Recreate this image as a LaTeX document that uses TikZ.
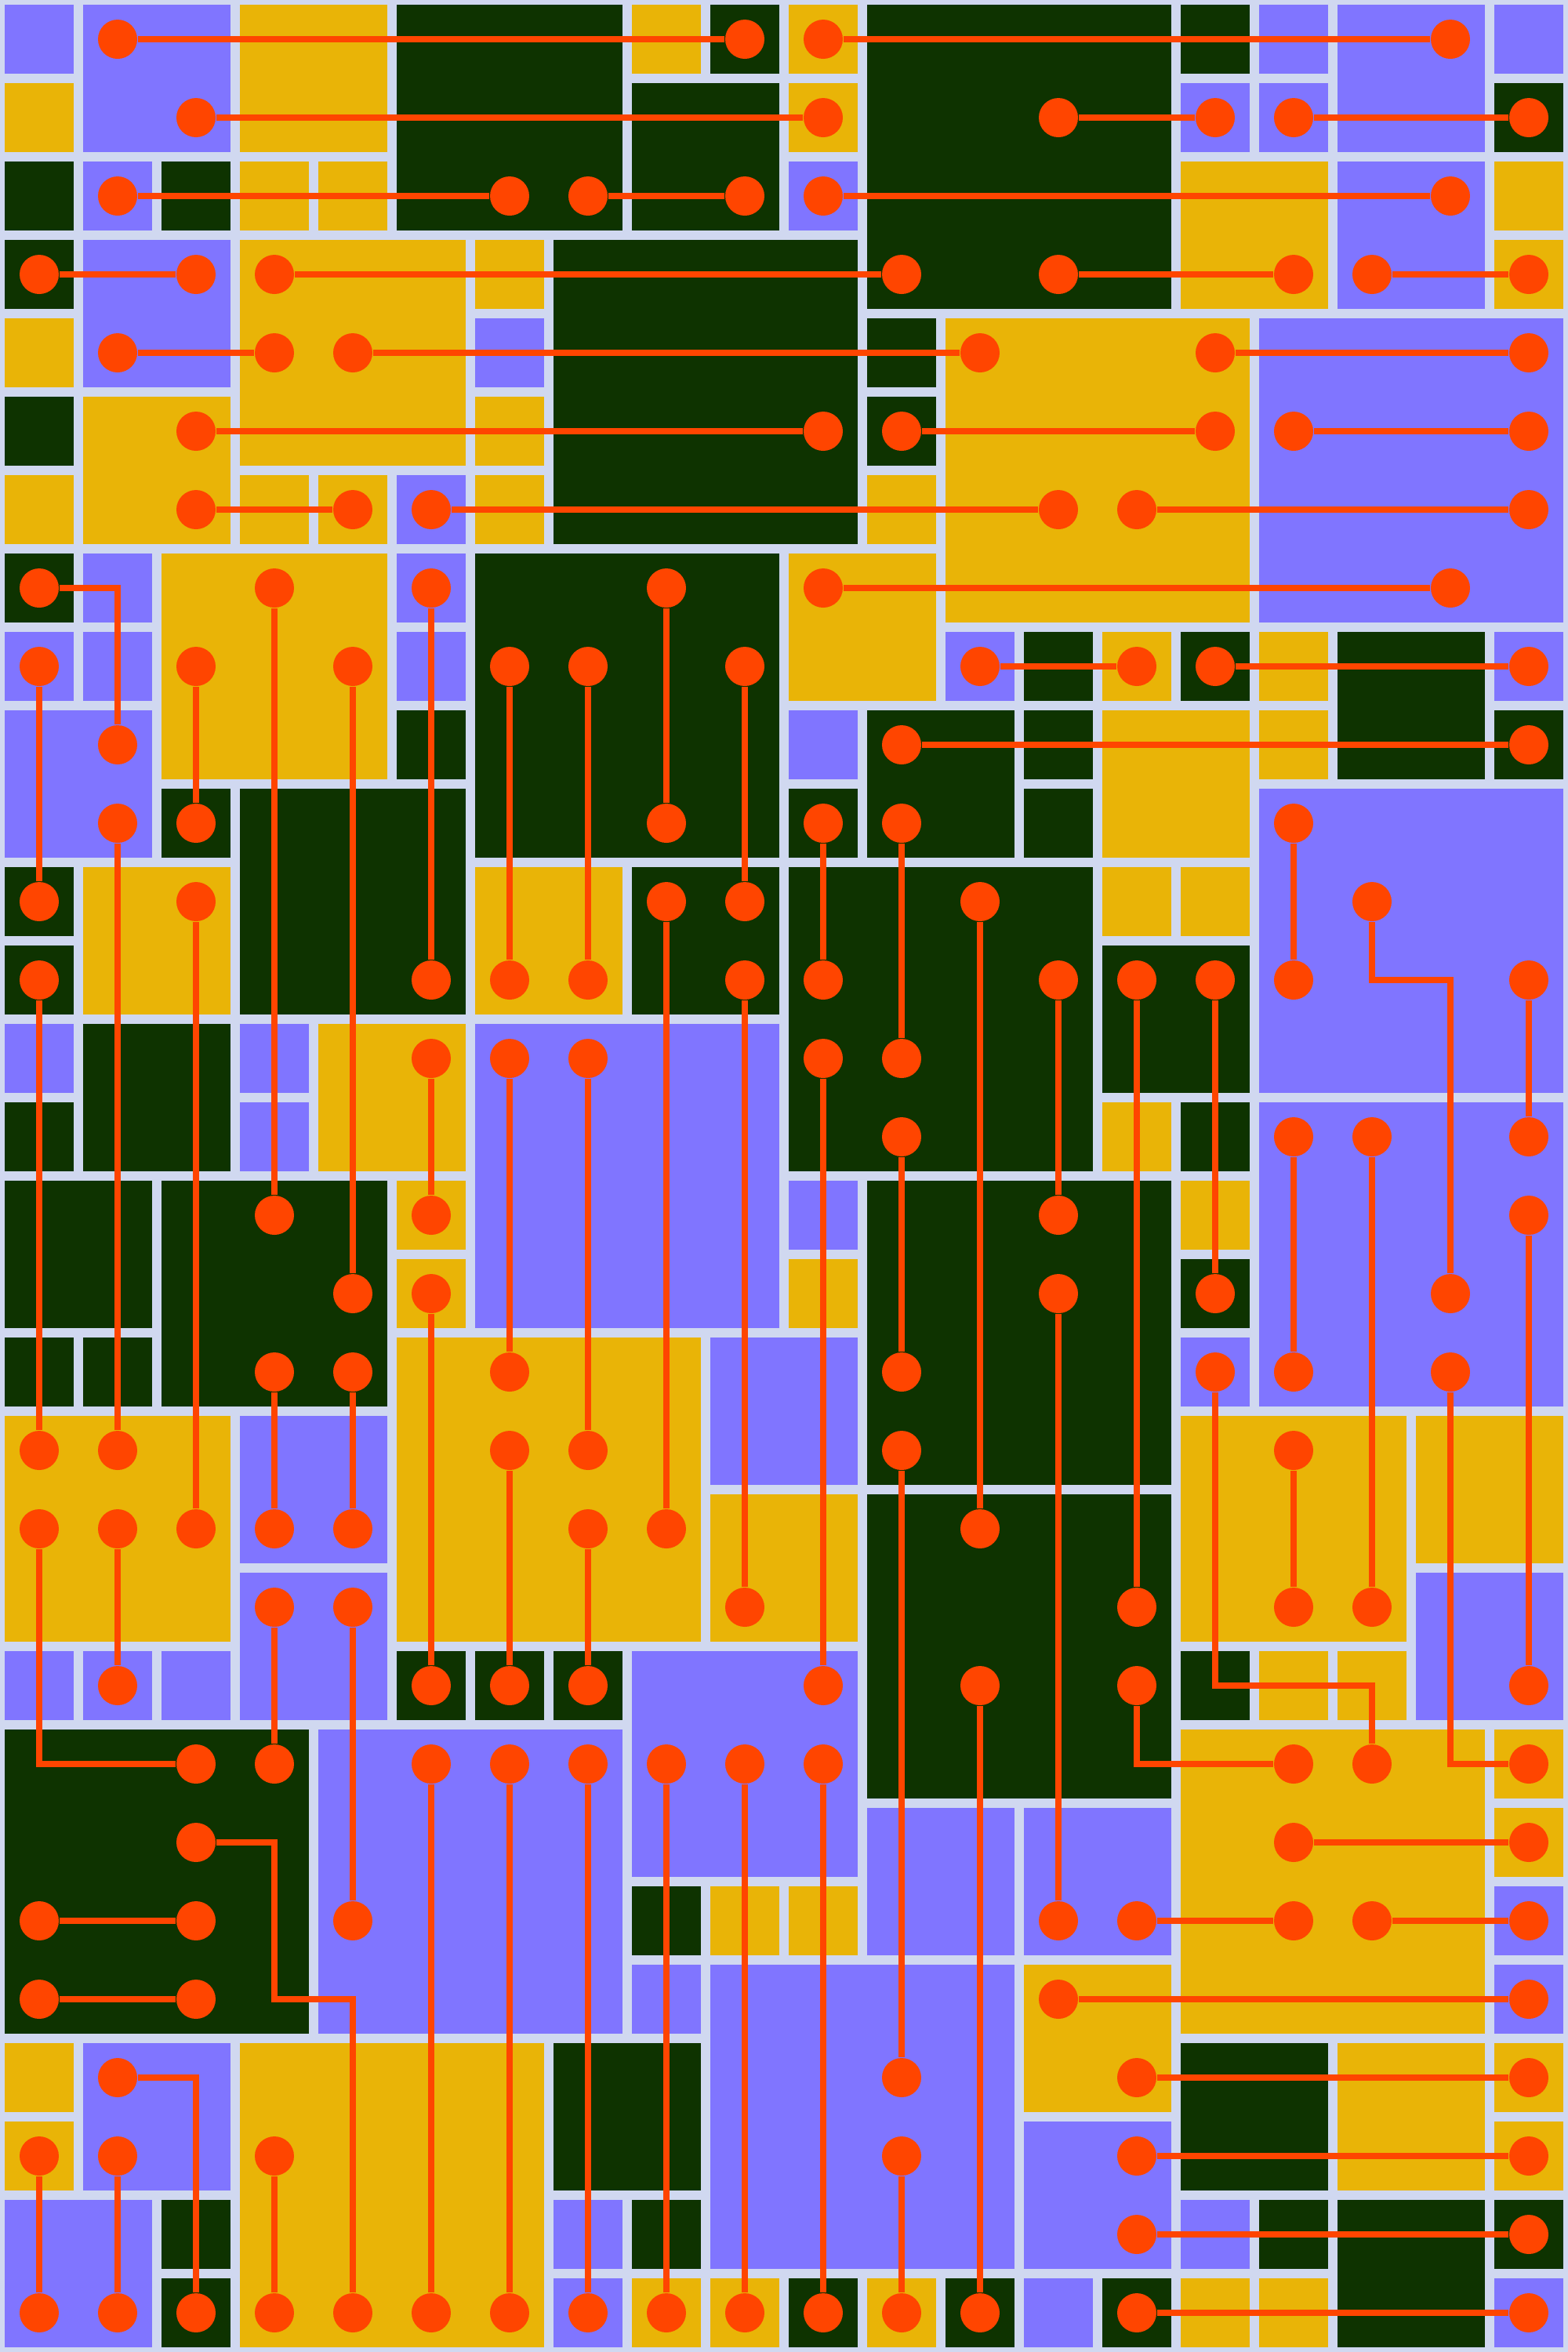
\documentclass[tikz,border=0pt]{standalone}
\definecolor{bgc}{HTML}{D0D8F0}
\definecolor{pu}{HTML}{8075FF}
\definecolor{ye}{HTML}{E9B407}
\definecolor{gr}{HTML}{0E3300}
\definecolor{wi}{HTML}{FF4500}
\newcommand\myrect[5]{\fill[#1] (#2-0.44,#3-0.44) rectangle (#4+0.44,#5+0.44);}
\newcommand\mysq[3]{\fill[#1] (#2-0.44,#3-0.44) rectangle (#2+0.44,#3+0.44);}
\begin{document}
\begin{tikzpicture}[x=0.5cm,y=-0.5cm,
  dot/.style={circle,fill=wi,draw=none,inner sep=0pt,minimum size=0.25cm},
  wire/.style={draw=wi,line width=0.038cm,line join=miter}]
\fill[bgc] (-0.5,-0.5) rectangle (19.5,29.5);
\useasboundingbox (-0.5,-0.5) rectangle (19.5,29.5);
% rows 0-9, cols 0-9
\mysq{pu}{0}{0}
\myrect{pu}{1}{0}{2}{1}
\myrect{ye}{3}{0}{4}{1}
\myrect{gr}{5}{0}{7}{2}
\mysq{ye}{8}{0}
\mysq{gr}{9}{0}
\myrect{gr}{8}{1}{9}{2}
\mysq{ye}{0}{1}
\mysq{gr}{0}{2}
\mysq{pu}{1}{2}
\mysq{gr}{2}{2}
\mysq{ye}{3}{2}
\mysq{ye}{4}{2}
\mysq{gr}{0}{3}
\myrect{pu}{1}{3}{2}{4}
\myrect{ye}{3}{3}{5}{5}
\mysq{ye}{6}{3}
\myrect{gr}{7}{3}{10}{6}
\mysq{ye}{0}{4}
\mysq{pu}{6}{4}
\mysq{gr}{0}{5}
\myrect{ye}{1}{5}{2}{6}
\mysq{ye}{6}{5}
\mysq{ye}{0}{6}
\mysq{ye}{3}{6}
\mysq{ye}{4}{6}
\mysq{pu}{5}{6}
\mysq{ye}{6}{6}
\mysq{gr}{0}{7}
\mysq{pu}{1}{7}
\myrect{ye}{2}{7}{4}{9}
\mysq{pu}{5}{7}
\myrect{gr}{6}{7}{9}{10}
\mysq{pu}{0}{8}
\mysq{pu}{1}{8}
\mysq{pu}{5}{8}
\myrect{pu}{0}{9}{1}{10}
\mysq{gr}{5}{9}
% rows 0-9, cols 10-19
\mysq{ye}{10}{0}
\myrect{gr}{11}{0}{14}{3}
\mysq{gr}{15}{0}
\mysq{pu}{16}{0}
\myrect{pu}{17}{0}{18}{1}
\mysq{pu}{19}{0}
\mysq{ye}{10}{1}
\mysq{pu}{15}{1}
\mysq{pu}{16}{1}
\mysq{gr}{19}{1}
\mysq{pu}{10}{2}
\myrect{ye}{15}{2}{16}{3}
\myrect{pu}{17}{2}{18}{3}
\mysq{ye}{19}{2}
\mysq{ye}{19}{3}
\mysq{gr}{11}{4}
\myrect{ye}{12}{4}{15}{7}
\myrect{pu}{16}{4}{19}{7}
\mysq{gr}{11}{5}
\mysq{ye}{11}{6}
\myrect{ye}{10}{7}{11}{8}
\mysq{pu}{12}{8}
\mysq{gr}{13}{8}
\mysq{ye}{14}{8}
\mysq{gr}{15}{8}
\mysq{ye}{16}{8}
\myrect{gr}{17}{8}{18}{9}
\mysq{pu}{19}{8}
\mysq{pu}{10}{9}
\myrect{gr}{11}{9}{12}{10}
\mysq{gr}{13}{9}
\myrect{ye}{14}{9}{15}{10}
\mysq{ye}{16}{9}
\mysq{gr}{19}{9}
% rows 10-19, cols 0-9
\mysq{gr}{2}{10}
\myrect{gr}{3}{10}{5}{12}
\mysq{gr}{0}{11}
\myrect{ye}{1}{11}{2}{12}
\myrect{ye}{6}{11}{7}{12}
\myrect{gr}{8}{11}{9}{12}
\mysq{gr}{0}{12}
\mysq{pu}{0}{13}
\myrect{gr}{1}{13}{2}{14}
\mysq{pu}{3}{13}
\myrect{ye}{4}{13}{5}{14}
\myrect{pu}{6}{13}{9}{16}
\mysq{gr}{0}{14}
\mysq{pu}{3}{14}
\myrect{gr}{0}{15}{1}{16}
\myrect{gr}{2}{15}{4}{17}
\mysq{ye}{5}{15}
\mysq{ye}{5}{16}
\mysq{gr}{0}{17}
\mysq{gr}{1}{17}
\myrect{ye}{5}{17}{8}{20}
\myrect{pu}{9}{17}{10}{18}
\myrect{ye}{0}{18}{2}{20}
\myrect{pu}{3}{18}{4}{19}
\myrect{ye}{9}{19}{10}{20}
% rows 10-19, cols 10-19
\mysq{gr}{10}{10}
\mysq{gr}{13}{10}
\myrect{pu}{16}{10}{19}{13}
\myrect{gr}{10}{11}{13}{14}
\mysq{ye}{14}{11}
\mysq{ye}{15}{11}
\myrect{gr}{14}{12}{15}{13}
\mysq{ye}{14}{14}
\mysq{gr}{15}{14}
\myrect{pu}{16}{14}{19}{17}
\mysq{pu}{10}{15}
\myrect{gr}{11}{15}{14}{18}
\mysq{ye}{15}{15}
\mysq{ye}{10}{16}
\mysq{gr}{15}{16}
\mysq{pu}{15}{17}
\myrect{ye}{15}{18}{17}{20}
\myrect{ye}{18}{18}{19}{19}
\myrect{gr}{11}{19}{14}{22}
% rows 20-29, cols 0-9
\myrect{pu}{3}{20}{4}{21}
\mysq{pu}{0}{21}
\mysq{pu}{1}{21}
\mysq{pu}{2}{21}
\mysq{gr}{5}{21}
\mysq{gr}{6}{21}
\mysq{gr}{7}{21}
\myrect{pu}{8}{21}{10}{23}
\myrect{gr}{0}{22}{3}{25}
\myrect{pu}{4}{22}{7}{25}
\mysq{gr}{8}{24}
\mysq{ye}{9}{24}
\mysq{pu}{8}{25}
\myrect{pu}{9}{25}{12}{28}
\mysq{ye}{0}{26}
\myrect{pu}{1}{26}{2}{27}
\myrect{ye}{3}{26}{6}{29}
\myrect{gr}{7}{26}{8}{27}
\mysq{ye}{0}{27}
\myrect{pu}{0}{28}{1}{29}
\mysq{gr}{2}{28}
\mysq{pu}{7}{28}
\mysq{gr}{8}{28}
\mysq{gr}{2}{29}
\mysq{pu}{7}{29}
\mysq{ye}{8}{29}
\mysq{ye}{9}{29}
% rows 20-29, cols 10-19
\myrect{pu}{18}{20}{19}{21}
\mysq{gr}{15}{21}
\mysq{ye}{16}{21}
\mysq{ye}{17}{21}
\myrect{ye}{15}{22}{18}{25}
\mysq{ye}{19}{22}
\myrect{pu}{11}{23}{12}{24}
\myrect{pu}{13}{23}{14}{24}
\mysq{ye}{19}{23}
\mysq{ye}{10}{24}
\mysq{pu}{19}{24}
\myrect{ye}{13}{25}{14}{26}
\mysq{pu}{19}{25}
\myrect{gr}{15}{26}{16}{27}
\myrect{ye}{17}{26}{18}{27}
\mysq{ye}{19}{26}
\myrect{pu}{13}{27}{14}{28}
\mysq{ye}{19}{27}
\mysq{pu}{15}{28}
\mysq{gr}{16}{28}
\myrect{gr}{17}{28}{18}{29}
\mysq{gr}{19}{28}
\mysq{gr}{10}{29}
\mysq{ye}{11}{29}
\mysq{gr}{12}{29}
\mysq{pu}{13}{29}
\mysq{gr}{14}{29}
\mysq{ye}{15}{29}
\mysq{ye}{16}{29}
\mysq{pu}{19}{29}
% dots
\foreach \r/\cs in {
 0/{1,9,10,18},
 1/{2,10,13,15,16,19},
 2/{1,6,7,9,10,18},
 3/{0,2,3,11,13,16,17,19},
 4/{1,3,4,12,15,19},
 5/{2,10,11,15,16,19},
 6/{2,4,5,13,14,19},
 7/{0,3,5,8,10,18},
 8/{0,2,4,6,7,9,12,14,15,19},
 9/{1,11,19},
 10/{1,2,8,10,11,16},
 11/{0,2,8,9,12,17},
 12/{0,5,6,7,9,10,13,14,15,16,19},
 13/{5,6,7,10,11},
 14/{11,16,17,19},
 15/{3,5,13,19},
 16/{4,5,13,15,18},
 17/{3,4,6,11,15,16,18},
 18/{0,1,6,7,11,16},
 19/{0,1,2,3,4,7,8,12},
 20/{3,4,9,14,16,17},
 21/{1,5,6,7,10,12,14,19},
 22/{2,3,5,6,7,8,9,10,16,17,19},
 23/{2,16,19},
 24/{0,2,4,13,14,16,17,19},
 25/{0,2,13,19},
 26/{1,11,14,19},
 27/{0,1,3,11,14,19},
 28/{14,19},
 29/{0,1,2,3,4,5,6,7,8,9,10,11,12,14,19}}
 {\foreach \c in \cs {\node[dot] (d\c-\r) at (\c,\r) {};}}
% straight wires
\foreach \a/\b in {
 1-0/9-0, 10-0/18-0, 2-1/10-1, 13-1/15-1, 16-1/19-1, 1-2/6-2, 7-2/9-2, 10-2/18-2,
 0-3/2-3, 3-3/11-3, 13-3/16-3, 17-3/19-3, 1-4/3-4, 4-4/12-4, 15-4/19-4,
 2-5/10-5, 11-5/15-5, 16-5/19-5, 2-6/4-6, 5-6/13-6, 14-6/19-6, 10-7/18-7,
 12-8/14-8, 15-8/19-8, 11-9/19-9,
 3-7/3-15, 5-7/5-12, 8-7/8-10, 0-8/0-11, 2-8/2-10, 4-8/4-16, 6-8/6-12, 7-8/7-12,
 9-8/9-11, 1-10/1-18, 0-12/0-18, 2-11/2-19, 3-17/3-19, 4-17/4-19, 5-13/5-15,
 5-16/5-21, 6-13/6-17, 6-18/6-21, 7-13/7-18, 7-19/7-21, 8-11/8-19, 9-12/9-20,
 1-19/1-21, 3-20/3-22, 4-20/4-24, 0-24/2-24, 0-25/2-25, 5-22/5-29, 6-22/6-29,
 7-22/7-29, 8-22/8-29, 9-22/9-29, 0-27/0-29, 1-27/1-29, 3-27/3-29,
 10-10/10-12, 10-13/10-21, 10-22/10-29, 11-10/11-13, 11-14/11-17, 11-18/11-26,
 11-27/11-29, 12-11/12-19, 12-21/12-29, 13-12/13-15, 13-16/13-24, 14-12/14-20,
 15-12/15-16, 16-10/16-12, 16-14/16-17, 16-18/16-20, 17-14/17-20, 19-12/19-14,
 19-15/19-21, 16-23/19-23, 14-24/16-24, 17-24/19-24, 13-25/19-25, 14-26/19-26,
 14-27/19-27, 14-28/19-28, 14-29/19-29}
 {\draw[wire] (d\a) -- (d\b);}
% bent wires
\draw[wire] (d0-7) -| (d1-9);
\draw[wire] (d0-19) |- (d2-22);
\draw[wire] (d2-23) -- (3,23) -- (3,25) -- (4,25) -- (d4-29);
\draw[wire] (d1-26) -| (d2-29);
\draw[wire] (d14-21) |- (d16-22);
\draw[wire] (d15-17) -- (15,21) -| (d17-22);
\draw[wire] (d17-11) -- (17,12) -| (d18-16);
\draw[wire] (d18-17) |- (d19-22);
\end{tikzpicture}
\end{document}
